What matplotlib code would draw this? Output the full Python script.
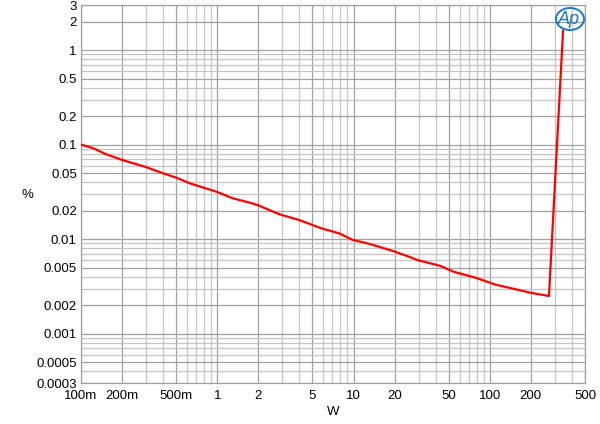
import matplotlib
matplotlib.use("Agg")
import matplotlib.pyplot as plt
from matplotlib.patches import Ellipse
from matplotlib.ticker import FixedLocator, NullFormatter

plt.rcParams['font.family'] = ['Liberation Sans', 'DejaVu Sans']

power_w = [0.1, 0.123, 0.15, 0.2, 0.3, 0.4, 0.5, 0.63, 1.0, 1.3, 1.73, 2.0, 2.83,
           4.0, 5.8, 7.85, 9.85, 13.1, 19.4, 25.6, 29.5, 43.5, 54.6, 78.8, 110,
           200, 272, 345]
thd_pct = [0.1, 0.0915, 0.080, 0.0688, 0.0578, 0.0497, 0.0447, 0.0389, 0.0315,
           0.027, 0.0243, 0.0228, 0.0184, 0.0159, 0.0130, 0.0115, 0.0098, 0.0089,
           0.0075, 0.0065, 0.0060, 0.0052, 0.0045, 0.0039, 0.0033, 0.0027,
           0.0025, 1.6]

x_ticks = [0.1, 0.2, 0.5, 1, 2, 5, 10, 20, 50, 100, 200, 500]
x_labels = ['100m', '200m', '500m', '1', '2', '5', '10', '20', '50', '100', '200', '500']
y_ticks = [3, 2, 1, 0.5, 0.2, 0.1, 0.05, 0.02, 0.01, 0.005, 0.002, 0.001, 0.0005, 0.0003]
y_labels = ['3', '2', '1', '0.5', '0.2', '0.1', '0.05', '0.02', '0.01', '0.005',
            '0.002', '0.001', '0.0005', '0.0003']

fig = plt.figure(figsize=(6, 4.24), dpi=100)
ax = fig.add_axes([81/600, 1-383/424, (585-81)/600, (383-5)/424])
ax.set_xscale('log')
ax.set_yscale('log')
ax.set_xlim(0.1, 500)
ax.set_ylim(0.0003, 3)

ax.plot(power_w, thd_pct, color='#ff0000', lw=1.6, zorder=3)

ax.xaxis.set_major_locator(FixedLocator(x_ticks))
ax.set_xticklabels(x_labels)
ax.yaxis.set_major_locator(FixedLocator(y_ticks))
ax.set_yticklabels(y_labels)
ax.xaxis.set_minor_locator(matplotlib.ticker.LogLocator(base=10, subs=range(1, 10), numticks=20))
ax.yaxis.set_minor_locator(matplotlib.ticker.LogLocator(base=10, subs=range(1, 10), numticks=20))
ax.xaxis.set_minor_formatter(NullFormatter())
ax.yaxis.set_minor_formatter(NullFormatter())
ax.grid(True, which='minor', color='#c4c4c4', lw=0.9)
ax.grid(True, which='major', color='#a0a0a0', lw=0.9)
ax.tick_params(which='both', length=0, labelsize=9.5, colors='black')
ax.tick_params(axis='x', pad=5)
ax.tick_params(axis='y', pad=3)
for s in ax.spines.values():
    s.set_color('#a0a0a0')
    s.set_linewidth(0.9)

fig.text(27/600, 1-195/424, '%', fontsize=9.5, ha='center', va='center')
fig.text(333/600, 1-412/424, 'W', fontsize=9.5, ha='center', va='center')

# AP logo
ell = Ellipse((570/600, 1-19/424), 28/600, 22/424, transform=fig.transFigure,
              fill=False, edgecolor='#1a7ac0', lw=1.4, zorder=5)
fig.add_artist(ell)
fig.text(569/600, 1-19/424, 'Ap', fontsize=13, style='italic', color='#1a7ac0',
         ha='center', va='center', zorder=6)

fig.savefig('out.png', dpi=100)
